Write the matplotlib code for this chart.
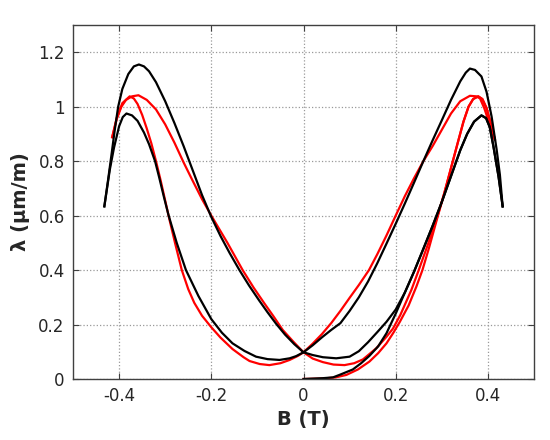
import matplotlib
matplotlib.use("Agg")
import matplotlib.pyplot as plt

# black loop, branch with small left peak / big right peak
bP_x = [-0.432, -0.420, -0.411, -0.400, -0.392, -0.384, -0.372, -0.360, -0.346, -0.335,
        -0.322, -0.313, -0.303, -0.293, -0.275, -0.255, -0.228, -0.200, -0.177, -0.154,
        -0.128, -0.103, -0.078, -0.052, -0.030, -0.016, 0.000, 0.020, 0.040, 0.060,
        0.080, 0.100, 0.120, 0.140, 0.160, 0.180, 0.200, 0.220, 0.240, 0.260,
        0.280, 0.300, 0.320, 0.340, 0.352, 0.361, 0.372, 0.386, 0.397, 0.408,
        0.419, 0.426, 0.432]
bP_y = [0.634, 0.770, 0.850, 0.928, 0.962, 0.975, 0.968, 0.948, 0.905, 0.862,
        0.800, 0.740, 0.670, 0.603, 0.500, 0.400, 0.305, 0.220, 0.170, 0.131,
        0.103, 0.082, 0.073, 0.070, 0.076, 0.084, 0.098, 0.124, 0.153, 0.180,
        0.205, 0.250, 0.300, 0.358, 0.425, 0.497, 0.570, 0.645, 0.722, 0.800,
        0.876, 0.950, 1.025, 1.093, 1.125, 1.140, 1.135, 1.111, 1.055, 0.964,
        0.842, 0.750, 0.634]

# black loop, branch with big left peak / small right peak
bQ_x = [-0.432, -0.424, -0.416, -0.409, -0.402, -0.393, -0.380, -0.368, -0.357, -0.346,
        -0.335, -0.320, -0.300, -0.280, -0.260, -0.240, -0.220, -0.200, -0.180, -0.160,
        -0.139, -0.118, -0.096, -0.078, -0.059, -0.040, -0.020, 0.000, 0.020, 0.042,
        0.071, 0.100, 0.120, 0.140, 0.160, 0.180, 0.200, 0.220, 0.240, 0.260,
        0.280, 0.300, 0.320, 0.340, 0.355, 0.370, 0.386, 0.396, 0.404, 0.412,
        0.423, 0.432]
bQ_y = [0.634, 0.730, 0.830, 0.920, 1.000, 1.065, 1.120, 1.148, 1.155, 1.148,
        1.130, 1.090, 1.020, 0.940, 0.855, 0.765, 0.675, 0.595, 0.525, 0.462,
        0.400, 0.343, 0.288, 0.245, 0.202, 0.163, 0.128, 0.098, 0.088, 0.080,
        0.076, 0.082, 0.102, 0.135, 0.172, 0.210, 0.255, 0.318, 0.395, 0.478,
        0.562, 0.650, 0.745, 0.840, 0.900, 0.945, 0.968, 0.958, 0.925, 0.854,
        0.744, 0.634]

# black initial curve from the demagnetised state
bI_x = [0.000, 0.042, 0.064, 0.078, 0.107, 0.125, 0.143, 0.162, 0.180, 0.200,
        0.220, 0.240, 0.260, 0.280, 0.300, 0.320, 0.340, 0.355, 0.370, 0.386,
        0.396, 0.404, 0.412, 0.423, 0.432]
bI_y = [0.000, 0.003, 0.006, 0.015, 0.035, 0.058, 0.085, 0.120, 0.168, 0.240,
        0.318, 0.395, 0.478, 0.562, 0.650, 0.745, 0.840, 0.900, 0.945, 0.968,
        0.958, 0.925, 0.854, 0.744, 0.634]

# red loop, branch A
rA_x = [-0.415, -0.405, -0.393, -0.377, -0.368, -0.360, -0.350, -0.340, -0.330, -0.320,
        -0.310, -0.300, -0.290, -0.278, -0.264, -0.250, -0.237, -0.220, -0.200, -0.180,
        -0.154, -0.130, -0.117, -0.095, -0.074, -0.050, -0.030, -0.012, 0.000, 0.020,
        0.040, 0.060, 0.080, 0.100, 0.120, 0.142, 0.160, 0.180, 0.200, 0.220,
        0.240, 0.260, 0.280, 0.300, 0.320, 0.340, 0.361, 0.375, 0.383, 0.392,
        0.400, 0.408, 0.415]
rA_y = [0.888, 0.960, 1.013, 1.038, 1.030, 1.010, 0.970, 0.920, 0.865, 0.800,
        0.730, 0.655, 0.580, 0.495, 0.400, 0.330, 0.280, 0.232, 0.190, 0.152,
        0.110, 0.080, 0.066, 0.055, 0.051, 0.058, 0.070, 0.085, 0.098, 0.130,
        0.165, 0.205, 0.250, 0.298, 0.345, 0.400, 0.458, 0.527, 0.600, 0.672,
        0.738, 0.800, 0.855, 0.915, 0.975, 1.020, 1.040, 1.038, 1.030, 0.995,
        0.955, 0.915, 0.880]

# red loop, branch B
rB_x = [-0.415, -0.405, -0.395, -0.385, -0.372, -0.358, -0.340, -0.320, -0.300, -0.280,
        -0.260, -0.241, -0.220, -0.200, -0.165, -0.132, -0.108, -0.085, -0.065, -0.045,
        -0.022, 0.000, 0.020, 0.042, 0.065, 0.089, 0.110, 0.129, 0.158, 0.180,
        0.194, 0.210, 0.234, 0.250, 0.270, 0.290, 0.305, 0.320, 0.335, 0.347,
        0.358, 0.368, 0.379, 0.388, 0.397, 0.406, 0.415]
rB_y = [0.888, 0.955, 1.000, 1.025, 1.038, 1.042, 1.025, 0.990, 0.935, 0.868,
        0.795, 0.730, 0.660, 0.600, 0.500, 0.400, 0.335, 0.278, 0.230, 0.180,
        0.137, 0.098, 0.075, 0.062, 0.053, 0.051, 0.058, 0.072, 0.113, 0.155,
        0.185, 0.235, 0.327, 0.400, 0.495, 0.595, 0.680, 0.775, 0.870, 0.945,
        1.000, 1.028, 1.038, 1.028, 0.995, 0.940, 0.880]

# red initial curve
rI_x = [0.000, 0.045, 0.070, 0.093, 0.118, 0.143, 0.162, 0.180, 0.195, 0.209,
        0.228, 0.245, 0.258, 0.272, 0.290, 0.305, 0.320, 0.335, 0.347, 0.358,
        0.368, 0.379, 0.388, 0.397, 0.406, 0.415]
rI_y = [0.000, 0.002, 0.006, 0.015, 0.035, 0.064, 0.095, 0.131, 0.170, 0.210,
        0.270, 0.340, 0.400, 0.480, 0.590, 0.680, 0.775, 0.870, 0.945, 1.000,
        1.028, 1.038, 1.028, 0.995, 0.940, 0.880]

xticks = [-0.4, -0.2, 0, 0.2, 0.4]
xticklabels = ["-0.4", "-0.2", "0", "0.2", "0.4"]
yticks = [0, 0.2, 0.4, 0.6, 0.8, 1, 1.2]
yticklabels = ["0", "0.2", "0.4", "0.6", "0.8", "1", "1.2"]

fig = plt.figure(figsize=(5.5, 4.4), dpi=100)
ax = fig.add_axes([73 / 550, 61 / 440, 461 / 550, 354 / 440])

red = "#ff0000"
lw = 1.6
ax.plot(rA_x, rA_y, color=red, lw=lw)
ax.plot(rB_x, rB_y, color=red, lw=lw)
ax.plot(rI_x, rI_y, color=red, lw=lw)
ax.plot(bP_x, bP_y, color="black", lw=lw)
ax.plot(bQ_x, bQ_y, color="black", lw=lw)
ax.plot(bI_x, bI_y, color="black", lw=lw)

ax.set_xlim(-0.5, 0.5)
ax.set_ylim(0, 1.3)
ax.set_xticks(xticks)
ax.set_xticklabels(xticklabels)
ax.set_yticks(yticks)
ax.set_yticklabels(yticklabels)
ax.tick_params(direction="in", length=4, width=0.8, color="#404040",
               labelsize=12, labelcolor="#262626", top=True, right=True, pad=6)
for s in ax.spines.values():
    s.set_color("#404040")
    s.set_linewidth(1.0)
ax.grid(True, linestyle=":", color="#999999", linewidth=0.9)
ax.set_axisbelow(True)

ax.set_xlabel("B (T)", fontsize=14, fontweight="bold", color="#262626", labelpad=3)
ax.set_ylabel("λ (μm/m)", fontsize=14, fontweight="bold", color="#262626", labelpad=6)

fig.savefig("out.png", dpi=100)
